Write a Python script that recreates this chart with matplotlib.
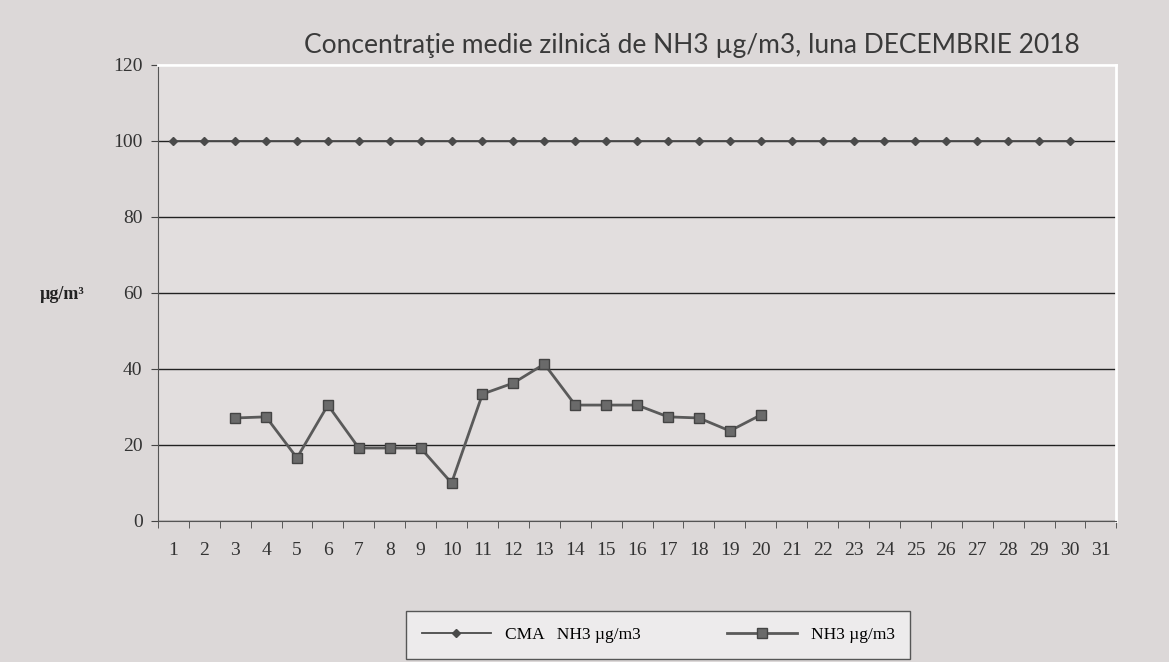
import numpy as np
import matplotlib.pyplot as plt

days = list(range(1, 32))
cma_days = list(range(1, 31))
cma = [100] * 30
nh3_days = list(range(3, 21))
nh3 = [27.1, 27.4, 16.6, 30.5, 19.2, 19.2, 19.2, 10.0, 33.4, 36.3,
       41.3, 30.5, 30.5, 30.5, 27.4, 27.1, 23.7, 27.9]

serif = ['Liberation Serif', 'DejaVu Serif']

fig = plt.figure(figsize=(11.69, 6.62), dpi=100, facecolor='#dcd8d8')
ax = fig.add_axes([0.135, 0.213, 0.820, 0.689])
ax.set_facecolor('#e2dede')

ax.plot(cma_days, cma, color='#4a4a4a', lw=1.3, marker='D', ms=4,
        label='CMA   NH3 µg/m3')
ax.plot(nh3_days, nh3, color='#5a5a5a', lw=2, marker='s', ms=7,
        mfc='#6a6a6a', mec='#444444', label='NH3 µg/m3')

ax.set_xlim(0.5, 31.5)
ax.set_ylim(0, 120)
ax.set_yticks(range(0, 121, 20))
ax.set_xticks(days)
ax.set_xticks(np.arange(0.5, 32, 1), minor=True)
ax.tick_params(axis='x', which='major', length=0, pad=15)
ax.tick_params(axis='x', which='minor', length=5, color='#444')
ax.tick_params(axis='y', length=5, color='#444', pad=6)
for lbl in ax.get_xticklabels() + ax.get_yticklabels():
    lbl.set_family(serif)
    lbl.set_fontsize(14)
    lbl.set_color('#333333')

ax.grid(axis='y', color='#222222', lw=1)
ax.set_axisbelow(True)
ax.spines['top'].set_color('white')
ax.spines['right'].set_color('white')
ax.spines['top'].set_linewidth(2)
ax.spines['right'].set_linewidth(2)
ax.spines['left'].set_color('#555')
ax.spines['bottom'].set_color('#555')

fig.text(0.592, 0.932, 'Concentraţie medie zilnică de NH3 µg/m3, luna DECEMBRIE 2018',
         ha='center', va='center', fontsize=19, family=['Lato', 'DejaVu Sans'],
         color='#3a3a3a')
fig.text(0.034, 0.555, 'µg/m³', ha='left', va='center', fontsize=13,
         fontweight='bold', family=serif, color='#222')

leg = fig.legend(loc='center', ncol=2,
                 prop={'family': serif, 'size': 12.5}, frameon=True, fancybox=False,
                 edgecolor='#333', facecolor='#f2f0f2', handlelength=4,
                 columnspacing=5, borderpad=0.9, handletextpad=0.8)
leg.set_bbox_to_anchor((0.563, 0.041), transform=fig.transFigure)

fig.savefig('out.png', dpi=100, facecolor=fig.get_facecolor())
